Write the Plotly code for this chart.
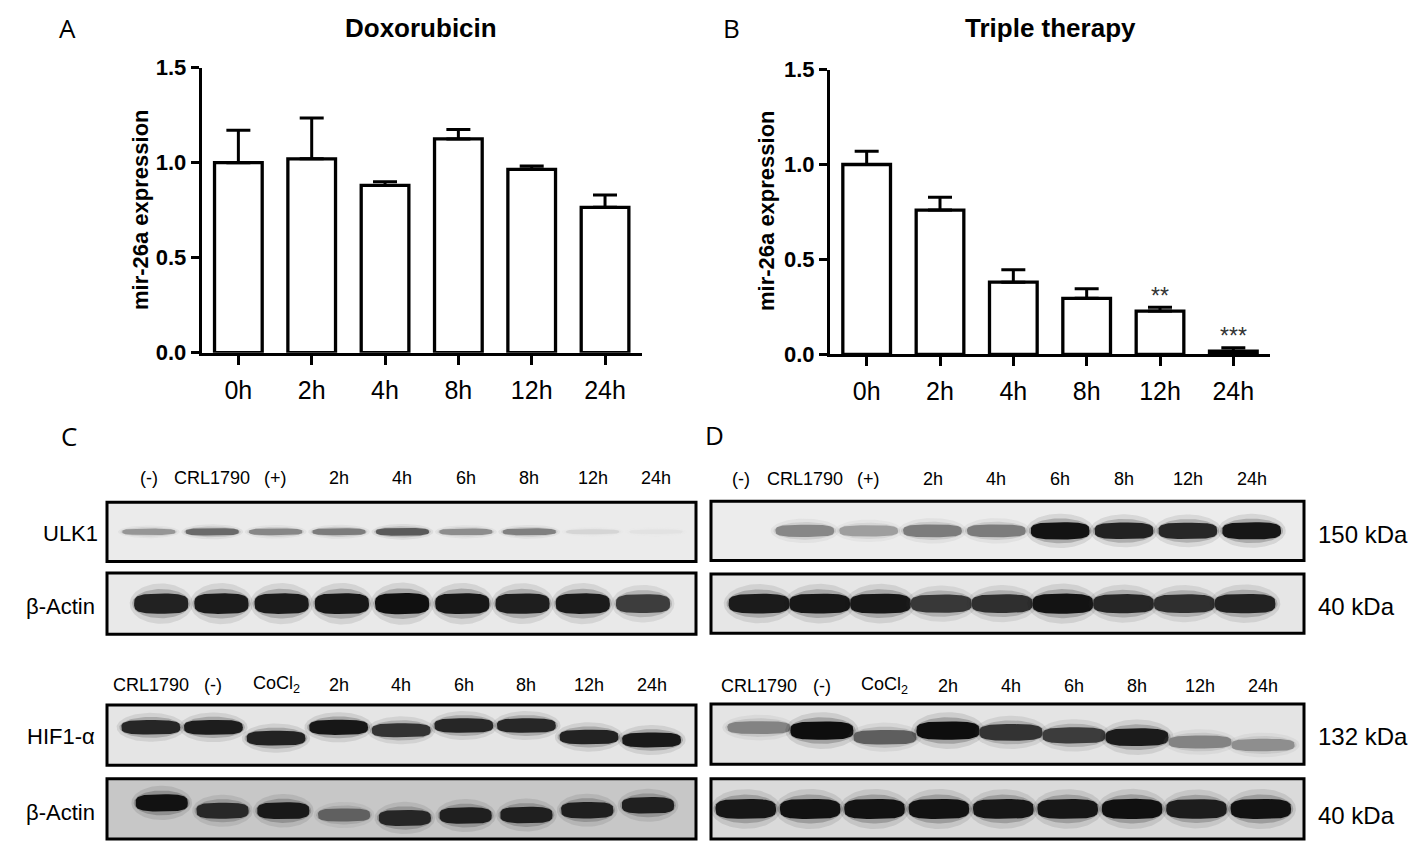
import numpy as np
import plotly.graph_objects as go

W, H = 1415, 853
FONT = "Liberation Sans, Arial, Helvetica, sans-serif"

# ---- qPCR bar charts (A, B) ----
times = ["0h", "2h", "4h", "8h", "12h", "24h"]
dox_mean = [1.00, 1.02, 0.88, 1.125, 0.965, 0.765]
dox_sem = [0.17, 0.215, 0.02, 0.05, 0.017, 0.065]
tri_mean = [1.00, 0.76, 0.38, 0.295, 0.228, 0.017]
tri_sem = [0.07, 0.067, 0.065, 0.051, 0.02, 0.018]
tri_stars = ["", "", "", "", "**", "***"]

# ---- western blots (C = doxorubicin, D = triple therapy) ----
ulk_lanes = ["(-)", "CRL1790", "(+)", "2h", "4h", "6h", "8h", "12h", "24h"]
hif_lanes = ["CRL1790", "(-)", "CoCl<sub>2</sub>", "2h", "4h", "6h", "8h", "12h", "24h"]

# band darkness per lane, 0 = no band, 1 = saturated
dox_ulk1 = [0.38, 0.58, 0.45, 0.5, 0.65, 0.42, 0.48, 0.1, 0.04]
dox_actin1 = [0.9, 0.93, 0.93, 0.95, 0.98, 0.95, 0.92, 0.93, 0.78]
dox_hif1a = [0.88, 0.92, 0.9, 0.95, 0.82, 0.88, 0.88, 0.9, 0.94]
dox_actin2 = [0.97, 0.85, 0.93, 0.55, 0.86, 0.9, 0.9, 0.9, 0.9]
tri_ulk1 = [0.0, 0.45, 0.35, 0.5, 0.5, 0.97, 0.9, 0.88, 0.95]
tri_actin1 = [0.93, 0.95, 0.95, 0.8, 0.84, 0.97, 0.88, 0.84, 0.9]
tri_hif1a = [0.45, 0.99, 0.62, 0.99, 0.82, 0.78, 0.93, 0.45, 0.4]
tri_actin2 = [0.95, 0.97, 0.97, 0.97, 0.95, 0.95, 0.98, 0.92, 0.97]

# vertical drift of bands, fraction of strip height (+ = lower)
dox_hif1a_drift = [-0.13, -0.13, 0.05, -0.13, -0.08, -0.16, -0.16, 0.03, 0.08]
dox_actin2_drift = [-0.1, 0.03, 0.03, 0.1, 0.15, 0.11, 0.1, 0.02, -0.06]
tri_hif1a_drift = [-0.11, -0.06, 0.05, -0.06, -0.03, 0.02, 0.05, 0.13, 0.18]
no_drift = [0] * 9


def px(x):
    return x / W


def py(y):
    return 1 - y / H


fig = go.Figure()
shapes = []
annotations = []


def label(text, x, y, size, xanchor="center", angle=0, weight="normal",
          family=FONT, color="black"):
    annotations.append(dict(
        x=px(x), y=py(y), xref="paper", yref="paper", text=text,
        xanchor=xanchor, yanchor="middle", textangle=angle, showarrow=False,
        font=dict(family=family, size=size, color=color, weight=weight)))


def add_bar_panel(n, means, sems, left, right, top, bottom):
    xa, ya = ("x", "y") if n == 1 else (f"x{n}", f"y{n}")
    fig.add_trace(go.Bar(
        x=times, y=means, width=0.65, xaxis=xa, yaxis=ya,
        marker=dict(color="white", line=dict(color="black", width=3.3)),
        error_y=dict(type="data", symmetric=False, array=sems,
                     arrayminus=[0] * len(sems), color="black",
                     thickness=3, width=12),
        showlegend=False, hoverinfo="skip", cliponaxis=False))
    key = "" if n == 1 else str(n)
    fig.update_layout(**{
        f"xaxis{key}": dict(
            domain=[px(left), px(right)], anchor=ya, type="category",
            range=[-0.5, 5.5], showline=True, linecolor="black", linewidth=3,
            ticks="outside", ticklen=9, tickwidth=3, tickcolor="black",
            tickfont=dict(family=FONT, size=25, color="black"),
            ticklabelstandoff=4, showgrid=False, zeroline=False),
        f"yaxis{key}": dict(
            domain=[py(bottom), py(top)], anchor=xa, range=[0, 1.5],
            tickvals=[0, 0.5, 1.0, 1.5], tickformat=".1f",
            showline=True, linecolor="black", linewidth=3,
            ticks="outside", ticklen=8, tickwidth=3, tickcolor="black",
            tickfont=dict(family=FONT, size=22, color="black", weight="bold"),
            showgrid=False, zeroline=False),
    })


add_bar_panel(1, dox_mean, dox_sem, 201.7, 641.7, 57.3, 351)
add_bar_panel(2, tri_mean, tri_sem, 830, 1270, 59.3, 352.7)

for t, s, m, e in zip(times, tri_stars, tri_mean, tri_sem):
    if s:
        annotations.append(dict(
            x=t, y=m + e + 0.06, xref="x2", yref="y2", text=s,
            showarrow=False, xanchor="center", yanchor="middle",
            font=dict(family=FONT, size=23, color="#333333")))

# panel titles, axis titles, letters
label("Doxorubicin", 421, 16, 26, weight="bold")
label("Triple therapy", 1050, 16, 26, weight="bold")
label("mir-26a expression", 140, 204, 22, angle=-90, weight="bold")
label("mir-26a expression", 767, 205, 22, angle=-90, weight="bold")
for text, x, y in [("A", 67, 16), ("B", 731, 16), ("C", 69, 437), ("D", 714, 436)]:
    label(text, x, y, 26, family="Open Sans, Noto Sans, sans-serif")

# ---- blot strips ----
theta = np.linspace(0, 2 * np.pi, 91)
cos_t, sin_t = np.cos(theta), np.sin(theta)
core_x = np.sign(cos_t) * np.abs(cos_t) ** 0.6
core_y = np.sign(sin_t) * np.abs(sin_t) ** 0.6

strips = [
    # n, darkness, drift, bg grey, x px, y px, lane range, half width, band px
    (3, dox_ulk1, no_drift, 235, (107, 696), (505, 566), (-0.66, 8.63), 0.42, 10),
    (4, dox_actin1, no_drift, 233, (107, 696), (578, 641), (-0.9, 8.88), 0.45, 22),
    (5, dox_hif1a, dox_hif1a_drift, 229, (107, 696), (714, 776), (-0.7, 8.71), 0.47, 16),
    (6, dox_actin2, dox_actin2_drift, 199, (107, 696), (790, 852), (-0.9, 8.79), 0.43, 18),
    (7, tri_ulk1, no_drift, 236, (711, 1304), (504, 565), (-0.47, 8.82), 0.46, 18),
    (8, tri_actin1, no_drift, 230, (711, 1304), (579, 640), (-0.79, 8.97), 0.5, 21),
    (9, tri_hif1a, tri_hif1a_drift, 228, (711, 1304), (713, 775), (-0.76, 8.65), 0.5, 19),
    (10, tri_actin2, no_drift, 218, (711, 1304), (790, 852), (-0.54, 8.67), 0.47, 21),
]

# soft elliptical halos then the solid core: (x scale, y scale, opacity, outline)
band_layers = [(1.16, 2.0, 0.10, (cos_t, sin_t)),
               (1.07, 1.45, 0.22, (cos_t, sin_t)),
               (1.0, 1.0, 1.0, (core_x, core_y))]

for n, dark, drift, bg, (xl, xr), (yt, yb), lane_rng, hw, thick in strips:
    xa, ya = f"x{n}", f"y{n}"
    fig.update_layout(**{
        f"xaxis{n}": dict(domain=[px(xl), px(xr)], anchor=ya, range=list(lane_rng),
                          visible=False, fixedrange=True),
        f"yaxis{n}": dict(domain=[py(yb), py(yt)], anchor=xa, range=[0, 1],
                          visible=False, fixedrange=True),
    })
    shapes.append(dict(type="rect", xref=f"{xa} domain", yref=f"{ya} domain",
                       x0=0, x1=1, y0=0, y1=1, fillcolor=f"rgb({bg},{bg},{bg})",
                       line=dict(width=0), layer="below"))
    strip_h = yb - yt
    for lane, (d, dr) in enumerate(zip(dark, drift)):
        if d <= 0:
            continue
        v = int(round(bg - (bg - 12) * d))
        hh = thick * (0.45 + 0.55 * d) / 2 / strip_h
        cy = 0.5 - dr
        for sx, sy, op, (ox, oy) in band_layers:
            fig.add_trace(go.Scatter(
                x=lane + hw * sx * ox, y=cy + hh * sy * oy,
                xaxis=xa, yaxis=ya, mode="lines", fill="toself",
                line=dict(width=0), fillcolor=f"rgba({v},{v},{v},{op})",
                showlegend=False, hoverinfo="skip"))
    shapes.append(dict(type="rect", xref=f"{xa} domain", yref=f"{ya} domain",
                       x0=0, x1=1, y0=0, y1=1, fillcolor="rgba(0,0,0,0)",
                       line=dict(color="black", width=3), layer="above"))

# lane labels above ULK1 / HIF1-α strips
for n, labels, y in [(3, ulk_lanes, 480), (7, ulk_lanes, 481),
                     (5, hif_lanes, 693), (9, hif_lanes, 694)]:
    for i, lab in enumerate(labels):
        annotations.append(dict(x=i, y=py(y), xref=f"x{n}", yref="paper",
                                text=lab, showarrow=False,
                                xanchor="center", yanchor="middle",
                                font=dict(family=FONT, size=18, color="black")))

# protein names (left) and sizes (right)
for text, x, y in [("ULK1", 100, 537), ("β-Actin", 97, 612),
                   ("HIF1-α", 97, 746), ("β-Actin", 97, 825)]:
    label(text, x, y, 22, xanchor="right")
for text, y in [("150 kDa", 538), ("40 kDa", 612), ("132 kDa", 746), ("40 kDa", 828)]:
    label(text, 1316, y, 24, xanchor="left")

fig.update_layout(
    width=W, height=H, autosize=False,
    margin=dict(l=0, r=0, t=0, b=0),
    paper_bgcolor="white", plot_bgcolor="white",
    shapes=shapes, annotations=annotations,
    font=dict(family=FONT, color="black"),
)

fig.write_html("out.html", config={"displayModeBar": False},
               post_script="document.body.style.margin='0';"
                           "document.body.style.overflow='hidden';")
